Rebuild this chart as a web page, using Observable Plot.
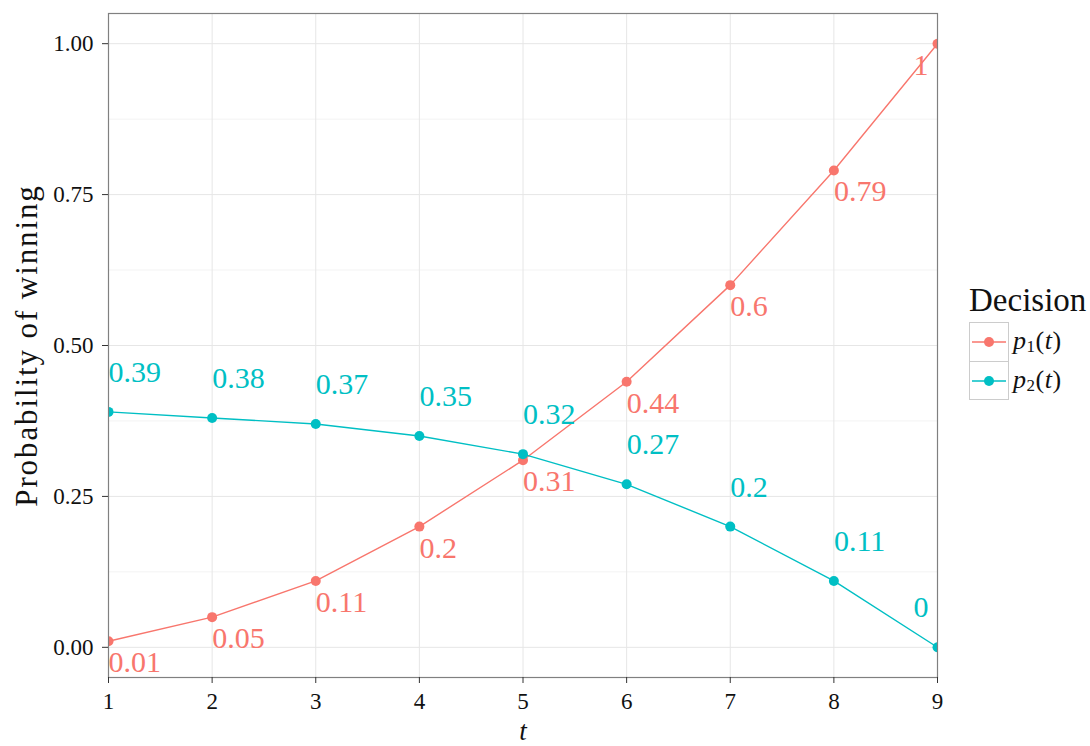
<!DOCTYPE html>
<html>
<head>
<meta charset="utf-8">
<script src="https://cdn.jsdelivr.net/npm/d3@7"></script>
<script src="https://cdn.jsdelivr.net/npm/@observablehq/plot@0.6"></script>
<style>
  html, body { margin: 0; padding: 0; background: white; }
  #wrap { position: relative; width: 1090px; height: 746px; font-family: "Liberation Serif", serif; }
  #legend { position: absolute; left: 969px; top: 281px; color: #111; }
  #legend .title { font-size: 33px; line-height: 38px; margin-bottom: 3px; }
  #legend .row { display: flex; align-items: center; height: 39px; }
  #legend .row svg { display: block; }
  #legend .lab { font-size: 26px; margin-left: 4px; letter-spacing: 0.5px; }
  #legend .lab sub { font-size: 17px; vertical-align: -3px; }
</style>
</head>
<body>
<div id="wrap"><div id="chart"></div><div id="legend"></div></div>
<script>
const tValues = [1, 2, 3, 4, 5, 6, 7, 8, 9];
const p1 = [0.01, 0.05, 0.11, 0.2, 0.31, 0.44, 0.6, 0.79, 1];
const p2 = [0.39, 0.38, 0.37, 0.35, 0.32, 0.27, 0.2, 0.11, 0];
const seriesIds = ["p1", "p2"];
const seriesSubs = ["1", "2"];
const seriesColors = ["#F8766D", "#00BFC4"];
const yMajor = [0, 0.25, 0.5, 0.75, 1];
const yMinor = [0.125, 0.375, 0.625, 0.875];
const legendTitle = "Decision";
const xTitle = "t";
const yTitle = "Probability of winning";

const seriesValues = [p1, p2];
const data = seriesIds.flatMap((s, k) => tValues.map((t, i) => ({t, p: seriesValues[k][i], series: s})));
const tMax = d3.max(tValues);
const fmt = d => String(d);
const serif = "Liberation Serif";

const color = {domain: seriesIds, range: seriesColors};

const chart = Plot.plot({
  width: 960,
  height: 746,
  marginLeft: 108,
  marginRight: 23,
  marginTop: 13,
  marginBottom: 69,
  style: {fontFamily: serif, fontSize: "23px", color: "#111", background: "white"},
  x: {domain: [1, 9], label: null},
  y: {domain: [-0.05, 1.05], label: null},
  color,
  marks: [
    Plot.gridY(yMinor, {stroke: "#f3f3f3", strokeOpacity: 1, strokeWidth: 1}),
    Plot.gridY(yMajor, {stroke: "#e6e6e6", strokeOpacity: 1, strokeWidth: 1}),
    Plot.gridX(tValues, {stroke: "#e6e6e6", strokeOpacity: 1, strokeWidth: 1}),
    Plot.line(data, {x: "t", y: "p", z: "series", stroke: "series", strokeWidth: 1.4, clip: true}),
    Plot.dot(data, {x: "t", y: "p", fill: "series", r: 5, clip: true}),
    Plot.text(data, {filter: d => d.series === "p1" && d.t < tMax, x: "t", y: "p", text: d => fmt(d.p), fill: "series",
      textAnchor: "start", lineAnchor: "bottom", dy: 31, fontSize: 30}),
    Plot.text(data, {filter: d => d.series === "p1" && d.t === tMax, x: "t", y: "p", text: d => fmt(d.p), fill: "series",
      textAnchor: "end", lineAnchor: "bottom", dx: -9, dy: 31, fontSize: 30}),
    Plot.text(data, {filter: d => d.series === "p2" && d.t < tMax, x: "t", y: "p", text: d => fmt(d.p), fill: "series",
      textAnchor: "start", lineAnchor: "bottom", dy: -30, fontSize: 30}),
    Plot.text(data, {filter: d => d.series === "p2" && d.t === tMax, x: "t", y: "p", text: d => fmt(d.p), fill: "series",
      textAnchor: "end", lineAnchor: "bottom", dx: -9, dy: -30, fontSize: 30}),
    Plot.frame({stroke: "#808080", strokeWidth: 1.2}),
    Plot.axisX(tValues, {tickSize: 6, tickPadding: 9, stroke: "#333", label: null, fontSize: 23}),
    Plot.axisY(yMajor, {tickSize: 6, tickPadding: 9, stroke: "#333", label: null, tickFormat: d3.format(".2f"), fontSize: 23}),
    Plot.text([xTitle], {frameAnchor: "bottom", lineAnchor: "bottom", dy: 62, fontSize: 27, fontStyle: "italic", fill: "#111"}),
    Plot.text([yTitle], {frameAnchor: "left", rotate: -90, lineAnchor: "bottom", textAnchor: "middle", dx: -72, fontSize: 31, fill: "#111"})
  ]
});
// widen the y-axis title a little to match the reference's wider face
d3.select(chart).selectAll("text").filter(function () { return this.textContent === yTitle; })
  .style("letter-spacing", "1.9px");
document.getElementById("chart").appendChild(chart);

// Legend
const legend = d3.select("#legend");
legend.append("div").attr("class", "title").text(legendTitle);
seriesIds.forEach((s, k) => {
  const row = legend.append("div").attr("class", "row");
  const svg = row.append("svg").attr("width", 40).attr("height", 39);
  svg.append("rect").attr("x", 0.5).attr("y", 0.5).attr("width", 39).attr("height", k === 0 ? 39 : 38)
    .attr("fill", "white").attr("stroke", "#cccccc");
  svg.append("line").attr("x1", 3).attr("x2", 37).attr("y1", 20).attr("y2", 20)
    .attr("stroke", seriesColors[k]).attr("stroke-width", 1.4);
  svg.append("circle").attr("cx", 20).attr("cy", 20).attr("r", 5).attr("fill", seriesColors[k]);
  const lab = row.append("div").attr("class", "lab");
  lab.append("i").text("p");
  lab.append("sub").text(seriesSubs[k]);
  lab.append("span").text("(");
  lab.append("i").text("t");
  lab.append("span").text(")");
});
</script>
</body>
</html>
